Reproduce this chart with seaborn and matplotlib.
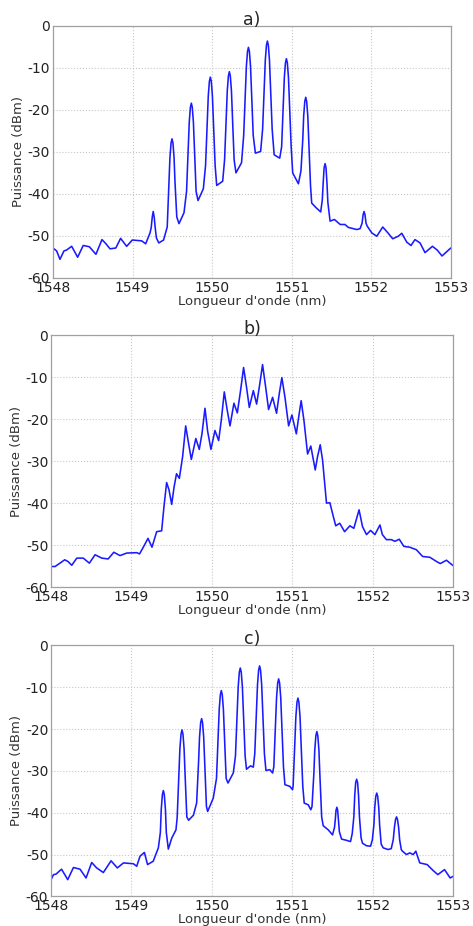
import numpy as np
import pandas as pd
import matplotlib
matplotlib.use('Agg')
import matplotlib.pyplot as plt
import seaborn as sns

# Spectre a) : longueur d'onde (nm) et puissance (dBm)
wl_a = [1548.0, 1548.046, 1548.088, 1548.138, 1548.17, 1548.235, 1548.31, 1548.38, 1548.457,
        1548.54, 1548.616, 1548.666, 1548.717, 1548.79, 1548.85, 1548.926, 1548.997, 1549.115,
        1549.165, 1549.22, 1549.235, 1549.248, 1549.26, 1549.272, 1549.285, 1549.30, 1549.33,
        1549.39, 1549.436, 1549.459, 1549.47, 1549.484, 1549.496, 1549.508, 1549.522, 1549.533,
        1549.556, 1549.584,
        1549.647, 1549.679, 1549.702, 1549.713, 1549.727, 1549.739, 1549.751, 1549.765, 1549.776,
        1549.799, 1549.823,
        1549.89, 1549.918, 1549.941, 1549.952, 1549.966, 1549.978, 1549.99, 1550.004, 1550.015,
        1550.038, 1550.058,
        1550.133, 1550.157, 1550.18, 1550.191, 1550.205, 1550.217, 1550.229, 1550.243, 1550.254,
        1550.277, 1550.30,
        1550.37, 1550.397, 1550.42, 1550.431, 1550.445, 1550.457, 1550.469, 1550.483, 1550.494,
        1550.517, 1550.544,
        1550.61, 1550.635, 1550.658, 1550.669, 1550.683, 1550.695, 1550.707, 1550.721, 1550.732,
        1550.755, 1550.78,
        1550.85, 1550.874, 1550.897, 1550.908, 1550.922, 1550.934, 1550.946, 1550.96, 1550.971,
        1550.994, 1551.013,
        1551.085, 1551.117, 1551.14, 1551.151, 1551.165, 1551.177, 1551.189, 1551.203, 1551.214,
        1551.237, 1551.252,
        1551.307, 1551.365, 1551.385, 1551.396, 1551.408, 1551.42, 1551.432, 1551.444, 1551.455,
        1551.483, 1551.537, 1551.61, 1551.67, 1551.713, 1551.818, 1551.86, 1551.885, 1551.898,
        1551.91, 1551.922, 1551.935, 1551.95, 1552.007, 1552.07, 1552.145, 1552.21, 1552.27,
        1552.34, 1552.384, 1552.447, 1552.5, 1552.55, 1552.614, 1552.676, 1552.77, 1552.83,
        1552.89, 1553.0]
p_a = [-52.9, -53.6, -55.6, -53.6, -53.4, -52.5, -55.1, -52.3, -52.6,
       -54.4, -50.9, -51.9, -53.1, -52.9, -50.6, -52.5, -51.0, -51.2,
       -51.9, -49.3, -48.0, -45.5, -44.2, -45.5, -48.1, -50.5, -51.7,
       -51.0, -47.9, -36.9, -31.4, -27.9, -26.9, -27.9, -31.4, -36.9,
       -45.5, -47.1,
       -44.5, -39.4, -28.4, -22.9, -19.4, -18.4, -19.4, -22.9, -28.4,
       -39.4, -41.6,
       -38.8, -33.2, -22.2, -16.7, -13.2, -12.2, -13.2, -16.7, -22.2,
       -33.2, -38.0,
       -37.0, -31.9, -20.9, -15.4, -11.9, -10.9, -11.9, -15.4, -20.9,
       -31.9, -35.0,
       -32.6, -26.1, -15.1, -9.6, -6.1, -5.1, -6.1, -9.6, -15.1,
       -26.1, -30.3,
       -29.9, -24.6, -13.6, -8.1, -4.6, -3.6, -4.6, -8.1, -13.6,
       -24.6, -30.7,
       -31.5, -28.8, -17.8, -12.3, -8.8, -7.8, -8.8, -12.3, -17.8,
       -28.8, -35.0,
       -37.6, -34.5, -27.0, -21.5, -18.0, -17.0, -18.0, -21.5, -27.0,
       -38.0, -42.2,
       -43.3, -44.3, -41.5, -37.5, -33.8, -32.8, -33.8, -37.5, -42.0,
       -46.5, -46.1, -47.3, -47.3, -48.0, -48.5, -48.3, -47.0, -45.0,
       -44.2, -45.0, -47.0, -47.7, -49.3, -50.1, -47.9, -49.3, -50.7,
       -50.1, -49.4, -51.5, -52.3, -50.9, -51.7, -54.0, -52.5, -53.4,
       -54.8, -52.9]

# Spectre b)
wl_b = [1548.0, 1548.05, 1548.11, 1548.17, 1548.21, 1548.257, 1548.32, 1548.40, 1548.476,
        1548.547, 1548.63, 1548.71, 1548.78, 1548.857, 1548.94, 1549.065, 1549.10, 1549.147,
        1549.205, 1549.255, 1549.313, 1549.375, 1549.404, 1549.437, 1549.466, 1549.5, 1549.53,
        1549.56, 1549.595, 1549.636, 1549.674, 1549.71, 1549.744, 1549.80, 1549.843, 1549.877,
        1549.914, 1549.947, 1549.988, 1550.038, 1550.084, 1550.117, 1550.154, 1550.19, 1550.225,
        1550.274, 1550.316, 1550.357, 1550.394, 1550.43, 1550.465, 1550.515, 1550.556, 1550.59,
        1550.63, 1550.668, 1550.705, 1550.755, 1550.804, 1550.838, 1550.87, 1550.908, 1550.954,
        1550.995, 1551.05, 1551.08, 1551.11, 1551.144, 1551.19, 1551.23, 1551.285, 1551.314,
        1551.347, 1551.376, 1551.425, 1551.467, 1551.51, 1551.54, 1551.59, 1551.65, 1551.716,
        1551.765, 1551.83, 1551.873, 1551.923, 1551.973, 1552.027, 1552.09, 1552.12, 1552.17,
        1552.233, 1552.275, 1552.33, 1552.387, 1552.46, 1552.543, 1552.62, 1552.71, 1552.793,
        1552.84, 1552.917, 1553.0]
p_b = [-55.1, -55.1, -54.3, -53.5, -53.9, -54.8, -53.1, -53.1, -54.3,
       -52.3, -53.1, -53.3, -51.7, -52.5, -51.9, -51.8, -52.1, -50.5,
       -48.4, -50.5, -46.8, -46.6, -40.8, -35.1, -36.8, -40.3, -36.1,
       -33.0, -34.1, -28.9, -21.6, -25.8, -29.6, -24.6, -27.2, -23.4,
       -17.4, -22.9, -27.2, -22.7, -25.1, -20.2, -13.5, -17.8, -21.6,
       -16.2, -18.5, -13.1, -7.7, -12.3, -17.2, -13.2, -16.4, -12.3,
       -7.0, -12.3, -17.7, -14.8, -18.6, -13.9, -10.1, -14.7, -21.6,
       -19.0, -23.5, -19.4, -15.6, -20.2, -28.3, -26.4, -32.1, -28.9,
       -26.1, -29.7, -40.0, -39.9, -43.2, -45.4, -44.8, -46.8, -45.4,
       -46.0, -41.6, -45.6, -47.5, -46.5, -47.5, -45.2, -47.5, -48.7,
       -48.7, -49.1, -48.6, -50.3, -50.5, -51.1, -52.7, -52.9, -53.9,
       -54.4, -53.6, -54.9]

# Spectre c)
wl_c = [1548.0, 1548.03, 1548.06, 1548.13, 1548.207, 1548.278, 1548.36, 1548.435, 1548.505,
        1548.567, 1548.65, 1548.746, 1548.824, 1548.9, 1549.023, 1549.065, 1549.106, 1549.16,
        1549.2, 1549.27,
        1549.334, 1549.359, 1549.37, 1549.384, 1549.396, 1549.408, 1549.422, 1549.433, 1549.458,
        1549.5, 1549.553, 1549.568, 1549.591, 1549.602, 1549.616, 1549.628, 1549.64, 1549.654,
        1549.665, 1549.688, 1549.71, 1549.77,
        1549.81, 1549.835, 1549.846, 1549.86, 1549.872, 1549.884, 1549.898, 1549.909, 1549.932,
        1549.947,
        1550.017, 1550.057, 1550.08, 1550.091, 1550.105, 1550.117, 1550.129, 1550.143, 1550.154,
        1550.177, 1550.2,
        1550.266, 1550.293, 1550.316, 1550.327, 1550.341, 1550.353, 1550.365, 1550.379, 1550.39,
        1550.413, 1550.43, 1550.48,
        1550.515, 1550.533, 1550.556, 1550.567, 1550.581, 1550.593, 1550.605, 1550.619, 1550.63,
        1550.653, 1550.672, 1550.72,
        1550.755, 1550.77, 1550.793, 1550.804, 1550.818, 1550.83, 1550.842, 1550.856, 1550.867,
        1550.89, 1550.908, 1550.97,
        1551.003, 1551.01, 1551.033, 1551.044, 1551.058, 1551.07, 1551.082, 1551.096, 1551.107,
        1551.13, 1551.148, 1551.198,
        1551.23, 1551.245, 1551.268, 1551.279, 1551.293, 1551.305, 1551.317, 1551.331, 1551.342,
        1551.365, 1551.384, 1551.447,
        1551.5, 1551.525, 1551.535, 1551.544, 1551.554, 1551.564, 1551.573, 1551.585, 1551.612,
        1551.674,
        1551.724, 1551.745, 1551.765, 1551.776, 1551.788, 1551.8, 1551.812, 1551.824, 1551.835,
        1551.855, 1551.873, 1551.923,
        1551.973, 1551.995, 1552.014, 1552.025, 1552.038, 1552.05, 1552.062, 1552.075, 1552.086,
        1552.105, 1552.13, 1552.19,
        1552.23, 1552.255, 1552.27, 1552.284, 1552.296, 1552.308, 1552.322, 1552.335, 1552.355,
        1552.37, 1552.42, 1552.46, 1552.503, 1552.536, 1552.585, 1552.677, 1552.75, 1552.81,
        1552.893, 1552.963, 1553.0]
p_c = [-56.0, -54.8, -54.7, -53.5, -56.0, -53.1, -53.5, -55.6, -51.9,
       -53.2, -54.3, -51.5, -53.2, -52.0, -52.2, -52.8, -50.4, -49.5,
       -52.4, -51.6,
       -48.4, -44.7, -39.2, -35.7, -34.7, -35.7, -39.2, -44.7, -48.7,
       -46.1, -44.1, -41.2, -30.2, -24.7, -21.2, -20.2, -21.2, -24.7,
       -30.2, -41.0, -41.8, -40.6,
       -37.7, -27.5, -22.0, -18.5, -17.5, -18.5, -22.0, -27.5, -38.5,
       -39.7,
       -36.5, -31.8, -20.8, -15.3, -11.8, -10.8, -11.8, -15.3, -20.8,
       -31.8, -32.9,
       -30.5, -26.4, -15.4, -9.9, -6.4, -5.4, -6.4, -9.9, -15.4,
       -26.4, -29.6, -28.8,
       -29.1, -25.9, -14.9, -9.4, -5.9, -4.9, -5.9, -9.4, -14.9,
       -25.9, -29.9, -29.7,
       -30.5, -29.0, -18.0, -12.5, -9.0, -8.0, -9.0, -12.5, -18.0,
       -29.0, -33.3, -33.7,
       -34.5, -33.6, -22.6, -17.1, -13.6, -12.6, -13.6, -17.1, -22.6,
       -33.6, -37.7, -38.1,
       -39.3, -38.5, -30.6, -25.1, -21.6, -20.6, -21.6, -25.1, -30.6,
       -41.0, -43.1, -44.1,
       -45.3, -43.5, -41.5, -39.4, -38.7, -39.4, -41.5, -44.5, -46.3,
       -46.6,
       -46.9, -45.0, -41.0, -36.0, -32.8, -32.0, -32.8, -36.0, -41.0,
       -46.0, -47.3, -47.9,
       -48.0, -46.5, -43.0, -38.8, -36.1, -35.3, -36.1, -38.8, -43.0,
       -47.5, -48.4, -48.8,
       -48.6, -46.5, -43.5, -41.6, -41.0, -41.6, -43.5, -46.5, -48.8,
       -49.2, -50.0, -49.6, -50.0, -49.2, -52.0, -52.4, -53.8, -54.8,
       -53.6, -55.6, -55.2]

titles = ['a)', 'b)', 'c)']
x_ticks = [1548, 1549, 1550, 1551, 1552, 1553]
y_ticks = [0, -10, -20, -30, -40, -50, -60]

sns.set_style('white')
plt.rcParams['font.family'] = ['DejaVu Sans']

fig = plt.figure(figsize=(4.73, 9.26), dpi=100)
# positions des trois panneaux [gauche, bas, largeur, hauteur]
boxes = [[0.112, 0.700, 0.841, 0.272],
         [0.108, 0.366, 0.850, 0.272],
         [0.108, 0.032, 0.850, 0.271]]

spectra = [(wl_a, p_a), (wl_b, p_b), (wl_c, p_c)]

for box, (wl, p), title in zip(boxes, spectra, titles):
    ax = fig.add_axes(box)
    df = pd.DataFrame({'wl': wl, 'p': p})
    sns.lineplot(data=df, x='wl', y='p', ax=ax, color='#1a1aff', linewidth=1.15,
                 sort=False, estimator=None)
    ax.set_xlim(1548, 1553)
    ax.set_ylim(-60, 0)
    ax.set_xticks(x_ticks)
    ax.set_yticks(y_ticks)
    ax.set_xticklabels([str(t) for t in x_ticks])
    ax.set_yticklabels([str(t) for t in y_ticks])
    ax.grid(True, linestyle=':', color='#c8c8c8', linewidth=0.8)
    for s in ax.spines.values():
        s.set_color('#a0a0a0')
        s.set_linewidth(0.9)
    ax.tick_params(direction='in', length=3, color='#a0a0a0', labelsize=10,
                   labelcolor='#222222', pad=2)
    ax.set_xlabel("Longueur d'onde (nm)", fontsize=9.5, color='#333333', labelpad=0)
    ax.set_ylabel('Puissance (dBm)', fontsize=9.5, color='#333333', labelpad=2)
    ax.set_title(title, fontsize=12.5, pad=1)

fig.savefig('out.png', dpi=100)
